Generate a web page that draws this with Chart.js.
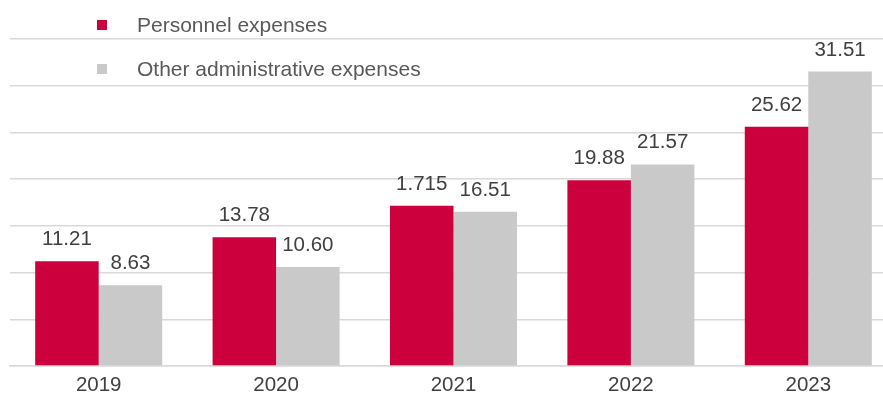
<!DOCTYPE html>
<html lang="en">
<head>
  <meta charset="UTF-8" />
  <title>Expenses</title>
  <script src="https://cdn.jsdelivr.net/npm/chart.js@4.4.0/dist/chart.umd.min.js"></script>
  <style>
    body { margin: 0; overflow: hidden; background: #fff; font-family: "Liberation Sans", Arial, sans-serif; }
    .wrap { position: relative; width: 900px; height: 398px; }
    .legend-row { position: absolute; left: 97px; height: 24px; line-height: 24px; font-size: 21px; color: #595959; white-space: nowrap; }
    .legend-row .box { position: absolute; left: 0; top: 7px; width: 10px; height: 10px; }
    .legend-row .txt { position: absolute; left: 40px; top: 0; }
  </style>
</head>
<body>
  <div class="wrap">
    <canvas id="barChart" width="900" height="398"></canvas>
    <div class="legend-row" style="top: 13px;"><span class="box" style="background:#cc003d;"></span><span class="txt">Personnel expenses</span></div>
    <div class="legend-row" style="top: 57px;"><span class="box" style="background:#c9c9c9;"></span><span class="txt">Other administrative expenses</span></div>
  </div>
<script>
  const years = ["2019", "2020", "2021", "2022", "2023"];
  const personnel = [11.21, 13.78, 17.15, 19.88, 25.62];
  const otherAdmin = [8.63, 10.60, 16.51, 21.57, 31.51];
  // printed labels (the 2021 one is printed this way in the original)
  const personnelLabels = ["11.21", "13.78", "1.715", "19.88", "25.62"];
  const otherAdminLabels = ["8.63", "10.60", "16.51", "21.57", "31.51"];

  const valueLabels = {
    id: 'valueLabels',
    afterDatasetsDraw(chart) {
      const ctx = chart.ctx;
      ctx.save();
      ctx.font = '20.5px "Liberation Sans", Arial, sans-serif';
      ctx.fillStyle = '#404040';
      ctx.textAlign = 'center';
      ctx.textBaseline = 'alphabetic';
      chart.data.datasets.forEach(function(ds, i) {
        chart.getDatasetMeta(i).data.forEach(function(bar, j) {
          ctx.fillText(ds.printed[j], bar.x, bar.y - 16);
        });
      });
      ctx.restore();
    }
  };

  new Chart("barChart", {
    type: 'bar',
    data: {
      labels: years,
      datasets: [{
        label: 'Personnel expenses',
        data: personnel,
        printed: personnelLabels,
        backgroundColor: '#cc003d'
      }, {
        label: 'Other administrative expenses',
        data: otherAdmin,
        printed: otherAdminLabels,
        backgroundColor: '#c9c9c9'
      }]
    },
    options: {
      responsive: false,
      animation: false,
      categoryPercentage: 0.716,
      barPercentage: 1,
      layout: { padding: { top: 39, left: 10, right: 3, bottom: 0 } },
      plugins: { legend: { display: false }, tooltip: { enabled: false } },
      scales: {
        x: {
          grid: { display: false, drawTicks: false },
          border: { display: true, color: '#d9d9d9', width: 1.5 },
          ticks: {
            color: '#404040',
            padding: 7,
            font: { family: '"Liberation Sans", Arial, sans-serif', size: 20.5 }
          },
          afterFit: function(scale) { scale.height = 32; }
        },
        y: {
          min: 0,
          max: 35,
          ticks: { display: false, stepSize: 5 },
          grid: { color: '#d9d9d9', lineWidth: 1.5, drawTicks: false },
          border: { display: false },
          afterFit: function(scale) { scale.width = 0; }
        }
      }
    },
    plugins: [valueLabels]
  });
</script>
</body>
</html>
